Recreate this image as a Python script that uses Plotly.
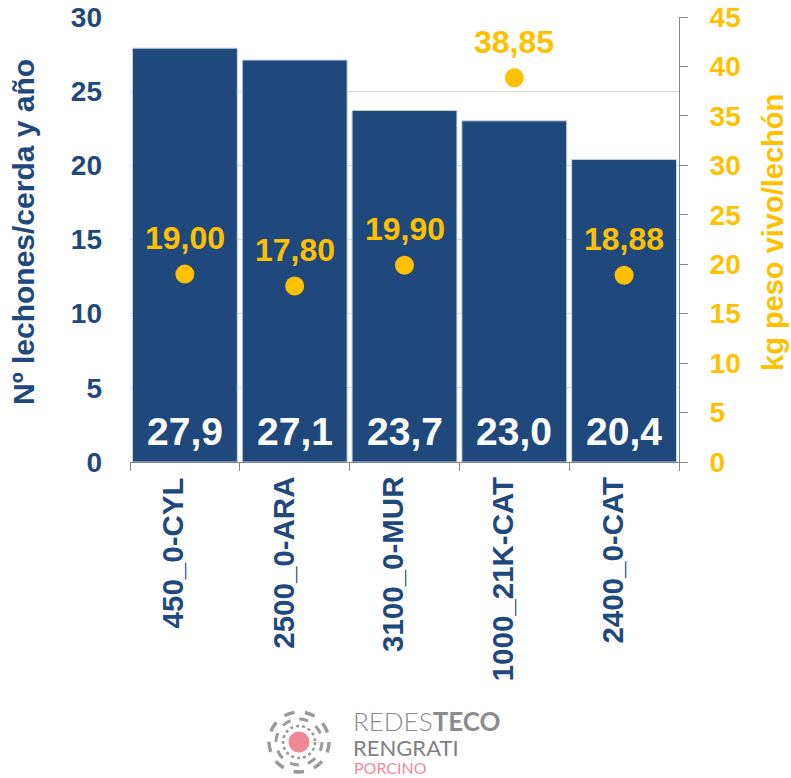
import plotly.graph_objects as go

categories = ["450_0-CYL", "2500_0-ARA", "3100_0-MUR", "1000_21K-CAT", "2400_0-CAT"]
lechones = [27.9, 27.1, 23.7, 23.0, 20.4]
peso_vivo = [19.00, 17.80, 19.90, 38.85, 18.88]
left_ticks = [0, 5, 10, 15, 20, 25, 30]
right_ticks = [0, 5, 10, 15, 20, 25, 30, 35, 40, 45]

BLUE = "#1F497D"
GOLD = "#FFC000"
GRAY = "#8C8C8C"
FONT = "Arial, Liberation Sans, sans-serif"

W, H = 791, 778
L, R, T, B = 130, 679, 17, 462


def px(x):
    return (x - L) / (R - L)


def py(y):
    return (B - y) / (B - T)


fig = go.Figure()
fig.add_trace(go.Bar(
    x=categories, y=lechones, marker=dict(color=BLUE, line=dict(color="#C9D2DF", width=1)),
    yaxis="y", hoverinfo="skip", showlegend=False,
))
fig.add_trace(go.Scatter(
    x=categories, y=peso_vivo, mode="markers", yaxis="y2",
    marker=dict(color=GOLD, size=19), hoverinfo="skip", showlegend=False,
))

annotations = []
for c, v in zip(categories, lechones):
    annotations.append(dict(
        x=c, y=0, xref="x", yref="y", text=f"<b>{v:.1f}</b>".replace(".", ","),
        showarrow=False, yanchor="middle", yshift=31,
        font=dict(family=FONT, size=39, color="white"),
    ))
for c, v in zip(categories, peso_vivo):
    annotations.append(dict(
        x=c, y=v, xref="x", yref="y2", text=f"<b>{v:.2f}</b>".replace(".", ","),
        showarrow=False, yanchor="middle", yshift=36,
        font=dict(family=FONT, size=32, color=GOLD),
    ))
# category labels (rotated)
for c in categories:
    annotations.append(dict(
        x=c, y=0, xref="x", yref="y", text=f"<b>{c}</b>",
        textangle=-90, showarrow=False, xanchor="center", yanchor="top",
        xshift=-12, yshift=-13,
        font=dict(family=FONT, size=29.5, color=BLUE),
    ))

# axis titles
annotations.append(dict(
    x=px(24), y=py(232), xref="paper", yref="paper", text="<b>Nº lechones/cerda y año</b>",
    textangle=-90, showarrow=False, xanchor="center", yanchor="middle",
    font=dict(family=FONT, size=30, color=BLUE),
))
annotations.append(dict(
    x=px(773), y=py(232), xref="paper", yref="paper", text="<b>kg peso vivo/lechón</b>",
    textangle=-90, showarrow=False, xanchor="center", yanchor="middle",
    font=dict(family=FONT, size=29, color=GOLD),
))

# logo text
annotations.append(dict(
    x=px(351), y=py(721), xref="paper", yref="paper",
    text="<span style='font-weight:300'>REDES</span><b>TECO</b>",
    showarrow=False, xanchor="left", yanchor="middle",
    font=dict(family="Lato, Open Sans, sans-serif", size=26, color=GRAY),
))
annotations.append(dict(
    x=px(351), y=py(747), xref="paper", yref="paper", text="RENGRATI",
    showarrow=False, xanchor="left", yanchor="middle",
    font=dict(family="Lato, Open Sans, sans-serif", size=22, color="#7F7F7F"),
))
annotations.append(dict(
    x=px(352), y=py(767), xref="paper", yref="paper", text="PORCINO",
    showarrow=False, xanchor="left", yanchor="middle",
    font=dict(family="Lato, Open Sans, sans-serif", size=16, color="#F08A9A"),
))

shapes = []
cx, cy = px(299), py(742)
for r, w, dash in [(30, 3.5, "dash"), (23, 3, "dash"), (16, 2.5, "dot")]:
    shapes.append(dict(
        type="circle", xref="paper", yref="paper", xsizemode="pixel", ysizemode="pixel",
        xanchor=cx, yanchor=cy, x0=-r, x1=r, y0=-r, y1=r,
        line=dict(color="#9A9A9A", width=w, dash=dash),
    ))
shapes.append(dict(
    type="circle", xref="paper", yref="paper", xsizemode="pixel", ysizemode="pixel",
    xanchor=cx, yanchor=cy, x0=-10.5, x1=10.5, y0=-10.5, y1=10.5,
    fillcolor="#EF8795", line=dict(width=0),
))

fig.update_layout(
    width=W, height=H,
    margin=dict(l=L, r=W - R, t=T, b=H - B, pad=0),
    plot_bgcolor="white", paper_bgcolor="white",
    bargap=0.045,
    font=dict(family=FONT),
    xaxis=dict(
        automargin=False, showticklabels=False,
        showline=True, linecolor="#868686", linewidth=1,
        ticks="outside", ticklen=8, tickcolor="#868686", tickson="boundaries",
    ),
    yaxis=dict(
        automargin=False,
        range=[0, 30], tickvals=left_ticks, ticktext=[f"<b>{t}</b>" for t in left_ticks],
        showgrid=True, gridcolor="#D9D9D9", gridwidth=1, zeroline=False,
        showline=False, ticks="", tickfont=dict(family=FONT, size=28, color=BLUE),
        ticklabelstandoff=27,
    ),
    yaxis2=dict(
        automargin=False,
        range=[0, 45], tickvals=right_ticks, ticktext=[f"<b>{t}</b>" for t in right_ticks],
        overlaying="y", side="right", showgrid=False, zeroline=False,
        showline=True, linecolor="#868686", linewidth=1,
        ticks="outside", ticklen=8, tickcolor="#868686",
        tickfont=dict(family=FONT, size=28, color=GOLD), ticklabelstandoff=16,
    ),
    annotations=annotations,
    shapes=shapes,
)

fig.write_html(
    "out.html",
    config={"displayModeBar": False},
    post_script="document.body.style.margin='0';document.body.style.overflow='hidden';",
)
